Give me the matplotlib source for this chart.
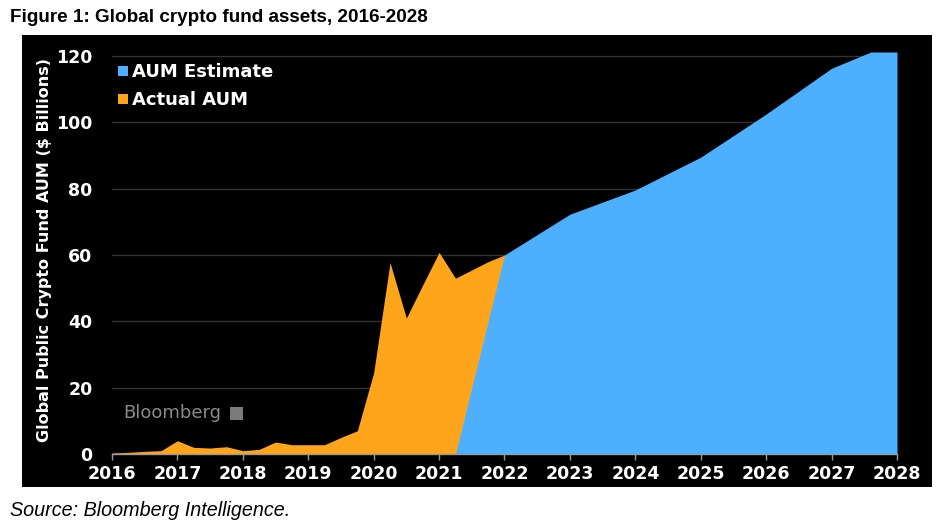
import matplotlib
matplotlib.use("Agg")
import matplotlib.pyplot as plt
from matplotlib.patches import Rectangle

# Data
actual_x = [2016.0, 2016.25, 2016.5, 2016.75, 2017.0, 2017.25, 2017.5, 2017.75,
            2018.0, 2018.25, 2018.5, 2018.75, 2019.0, 2019.25, 2019.5, 2019.75,
            2020.0, 2020.25, 2020.5, 2020.75, 2021.0, 2021.25, 2021.5, 2021.75, 2022.0]
actual_y = [0.3, 0.5, 0.8, 1.0, 4.0, 2.0, 1.8, 2.2,
            1.0, 1.4, 3.6, 2.8, 2.8, 2.8, 5.0, 7.0,
            24.5, 57.7, 41.0, 51.0, 60.8, 53.0, 55.5, 58.0, 60.0]
est_x = [2021.25, 2022.0, 2023.0, 2024.0, 2025.0, 2026.0, 2027.0, 2027.6, 2028.0]
est_y = [0.0, 60.0, 72.3, 79.6, 89.5, 102.5, 116.3, 121.2, 121.2]
year_ticks = list(range(2016, 2029))
y_ticks = [0, 20, 40, 60, 80, 100, 120]

W, H = 948, 529
fig = plt.figure(figsize=(W / 100, H / 100), dpi=100)
fig.patch.set_facecolor("white")

# black panel
fig.patches.append(Rectangle((22 / W, 1 - 487 / H), (932 - 22) / W, (487 - 35) / H,
                             transform=fig.transFigure, facecolor="black",
                             edgecolor="none", zorder=-5))

ymax = 124
ax_left, ax_right = 112 / W, 897 / W
ax_bottom = 1 - 454 / H
ax_h = ymax * (454 - 56) / 120 / H
ax = fig.add_axes([ax_left, ax_bottom, ax_right - ax_left, ax_h])
ax.set_facecolor("black")

orange = "#FFA51B"
blue = "#4DB0FF"
ax.fill_between(actual_x, actual_y, 0, color=orange, linewidth=0, zorder=2)
ax.fill_between(est_x, est_y, 0, color=blue, linewidth=0, zorder=3)

ax.set_xlim(2016, 2028)
ax.set_ylim(0, ymax)
ax.set_yticks(y_ticks)
ax.set_xticks(year_ticks)
for yv in y_ticks[1:]:
    ax.axhline(yv, color="#333333", linewidth=1.0, zorder=1)

for s in ["top", "right", "left"]:
    ax.spines[s].set_visible(False)
ax.spines["bottom"].set_color("#9a9a9a")
ax.spines["bottom"].set_linewidth(1.0)
ax.spines["bottom"].set_zorder(5)

ax.tick_params(axis="x", colors="#9a9a9a", length=4, width=1, direction="out", pad=4)
ax.tick_params(axis="y", length=0, pad=14)
for lab in ax.get_xticklabels() + ax.get_yticklabels():
    lab.set_color("white")
    lab.set_fontweight("bold")
    lab.set_fontsize(12.5)
    lab.set_fontfamily("DejaVu Sans")

fig.text(45 / W, 1 - 250 / H, "Global Public Crypto Fund AUM ($ Billions)",
         rotation=90, color="white", fontweight="bold", fontsize=11.5,
         ha="center", va="center", family="DejaVu Sans")

# legend
leg_items = [("AUM Estimate", blue, 72), ("Actual AUM", orange, 100)]
for txt, col, ypx in leg_items:
    fig.patches.append(Rectangle((118 / W, 1 - (ypx + 4) / H), 10 / W, 10 / H,
                                 transform=fig.transFigure, facecolor=col,
                                 edgecolor="none", zorder=5))
    fig.text(132 / W, 1 - ypx / H, txt, color="white", fontweight="bold",
             fontsize=13, ha="left", va="center", family="DejaVu Sans")

# watermark
fig.text(123 / W, 1 - 413 / H, "Bloomberg", color="#8a8a8a", fontsize=13,
         ha="left", va="center", family="DejaVu Sans")
fig.patches.append(Rectangle((230 / W, 1 - 420 / H), 13 / W, 13 / H,
                             transform=fig.transFigure, facecolor="#7a7a7a",
                             edgecolor="none", zorder=5))

fig.text(10 / W, 1 - 17 / H, "Figure 1: Global crypto fund assets, 2016-2028",
         color="black", fontweight="bold", fontsize=13.6, ha="left", va="center",
         family="Liberation Sans")
fig.text(10 / W, 1 - 510 / H, "Source: Bloomberg Intelligence.", color="black",
         style="italic", fontsize=14.2, ha="left", va="center", family="Liberation Sans")

fig.savefig("out.png", dpi=100, facecolor=fig.get_facecolor())
